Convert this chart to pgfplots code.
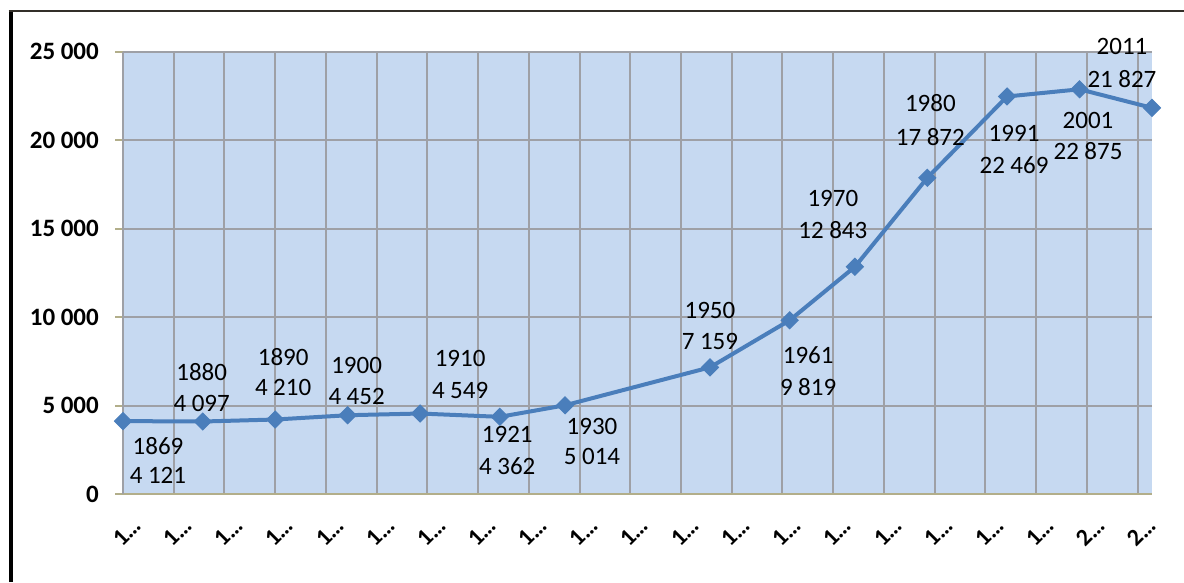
\documentclass[border=0pt]{standalone}
\usepackage{fontspec}
\setmainfont{Carlito}
\usepackage{pgfplots}
\pgfplotsset{compat=1.18}
\definecolor{bgblue}{RGB}{198,217,241}
\definecolor{gridgray}{RGB}{158,160,166}
\definecolor{khaki}{RGB}{178,174,138}
\definecolor{linecol}{RGB}{74,126,187}
\newcommand\ts{\hspace{0.22em}}
\tikzset{lbl/.style={font=\fontsize{25}{30}\selectfont, text=black, inner sep=0pt, anchor=center}}
\begin{document}
\begin{tikzpicture}
\path[use as bounding box] (0,0) rectangle (1184pt,582pt);
\draw[line width=4pt, black] (10.5pt,0pt) -- (10.5pt,572pt);
\draw[line width=2pt, black!85!olive] (8.5pt,571.3pt) -- (1184pt,571.3pt);
\begin{axis}[
  at={(123pt,88pt)}, anchor=south west,
  width=1029pt, height=442.3pt, scale only axis,
  xmin=1869, xmax=2011, ymin=0, ymax=25000,
  clip=false,
  scaled y ticks=false,
  axis background/.style={fill=bgblue},
  axis x line*=bottom, axis y line*=left,
  x axis line style={draw=khaki, line width=2.5pt},
  y axis line style={draw=gridgray, line width=2pt},
  grid=major, grid style={draw=gridgray, line width=2pt},
  xtick={1869,1876,...,2009},
  xticklabels={1…,1…,1…,1…,1…,1…,1…,1…,1…,1…,1…,1…,1…,1…,1…,1…,1…,1…,1…,2…,2…},
  ytick={0,5000,10000,15000,20000,25000},
  yticklabels={0,5\ts000,10\ts000,15\ts000,20\ts000,25\ts000},
  tick align=outside,
  major tick length=8pt,
  xtick style={draw=none},
  ytick style={draw=khaki, line width=2pt},
  xticklabel style={font=\fontsize{24}{30}\selectfont\bfseries, text=black, inner sep=0pt, xshift=4pt, yshift=-30pt, rotate=45, anchor=center},
  yticklabel style={font=\fontsize{25}{30}\selectfont\bfseries, text=black, inner sep=0pt, anchor=east, xshift=-16pt},
]
\addplot[color=linecol, line width=4pt, mark=square*, mark size=6pt,
  mark options={rotate=45, fill=linecol, draw=linecol, line width=1pt, solid}]
  coordinates {
  (1869,4121) (1880,4097) (1890,4210) (1900,4452) (1910,4549) (1921,4362)
  (1930,5014) (1950,7159) (1961,9819) (1970,12843) (1980,17872) (1991,22469)
  (2001,22875) (2011,21827)
  };
\node[lbl, xshift=35pt, yshift=-25pt] at (axis cs:1869,4121) {1869};
\node[lbl, xshift=35pt, yshift=-54pt] at (axis cs:1869,4121) {4\ts121};
\node[lbl, xshift=-1pt, yshift=49.6pt] at (axis cs:1880,4097) {1880};
\node[lbl, xshift=-1pt, yshift=17.6pt] at (axis cs:1880,4097) {4\ts097};
\node[lbl, xshift=8pt, yshift=62.6pt] at (axis cs:1890,4210) {1890};
\node[lbl, xshift=8pt, yshift=31.6pt] at (axis cs:1890,4210) {4\ts210};
\node[lbl, xshift=9pt, yshift=49.3pt] at (axis cs:1900,4452) {1900};
\node[lbl, xshift=9pt, yshift=18.3pt] at (axis cs:1900,4452) {4\ts452};
\node[lbl, xshift=40pt, yshift=54.6pt] at (axis cs:1910,4549) {1910};
\node[lbl, xshift=40pt, yshift=22.6pt] at (axis cs:1910,4549) {4\ts549};
\node[lbl, xshift=7.5pt, yshift=-17.1pt] at (axis cs:1921,4362) {1921};
\node[lbl, xshift=7.5pt, yshift=-49.1pt] at (axis cs:1921,4362) {4\ts362};
\node[lbl, xshift=27pt, yshift=-21pt] at (axis cs:1930,5014) {1930};
\node[lbl, xshift=27pt, yshift=-51pt] at (axis cs:1930,5014) {5\ts014};
\node[lbl, xshift=0pt, yshift=56.9pt] at (axis cs:1950,7159) {1950};
\node[lbl, xshift=0pt, yshift=25.4pt] at (axis cs:1950,7159) {7\ts159};
\node[lbl, xshift=18.5pt, yshift=-34.6pt] at (axis cs:1961,9819) {1961};
\node[lbl, xshift=18.5pt, yshift=-66.3pt] at (axis cs:1961,9819) {9\ts819};
\node[lbl, xshift=-22pt, yshift=68pt] at (axis cs:1970,12843) {1970};
\node[lbl, xshift=-22pt, yshift=36.5pt] at (axis cs:1970,12843) {12\ts843};
\node[lbl, xshift=3pt, yshift=74.7pt] at (axis cs:1980,17872) {1980};
\node[lbl, xshift=3pt, yshift=40.5pt] at (axis cs:1980,17872) {17\ts872};
\node[lbl, xshift=7pt, yshift=-36.6pt] at (axis cs:1991,22469) {1991};
\node[lbl, xshift=7pt, yshift=-68.3pt] at (axis cs:1991,22469) {22\ts469};
\node[lbl, xshift=8.5pt, yshift=-31.2pt] at (axis cs:2001,22875) {2001};
\node[lbl, xshift=8.5pt, yshift=-62.1pt] at (axis cs:2001,22875) {22\ts875};
\node[lbl, xshift=-30pt, yshift=61pt] at (axis cs:2011,21827) {2011};
\node[lbl, xshift=-30pt, yshift=28.5pt] at (axis cs:2011,21827) {21\ts827};
\end{axis}
\end{tikzpicture}
\end{document}
